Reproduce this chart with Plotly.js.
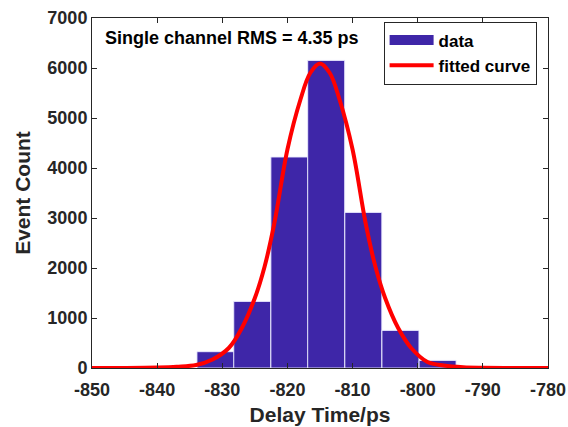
<!DOCTYPE html>
<html>
<head>
<meta charset="utf-8">
<script src="https://cdn.plot.ly/plotly-3.0.1.min.js"></script>
<style>html,body{margin:0;padding:0;background:#fff;}#chart{width:568px;height:427px;}</style>
</head>
<body>
<div id="chart"></div>
<script>
// Histogram bins (centers, ps) and counts
var binCenters = [-831.05, -825.4, -819.7, -814.05, -808.35, -802.65, -796.95];
var binCounts  = [326, 1332, 4220, 6152, 3112, 752, 152];

// Fitted curve points
var fitX = [-850, -845, -840, -837, -834, -831.5, -829, -827, -825, -823.5, -822, -820, -818, -816.5, -815, -813.5, -812, -810, -808, -806.5, -805, -803, -801, -798.5, -796, -793, -790, -785, -780];
var fitY = [0, 2, 10, 25, 60, 170, 400, 800, 1400, 2030, 2900, 4370, 5370, 5900, 6090, 5900, 5370, 4370, 2900, 2030, 1400, 800, 400, 120, 50, 15, 5, 1, 0];

var xTicks = [-850, -840, -830, -820, -810, -800, -790, -780];
var yTicks = [0, 1000, 2000, 3000, 4000, 5000, 6000, 7000];

var axisColor = '#262626';
var barColor = 'rgb(62,38,168)';
var font = 'Liberation Sans, Arial, sans-serif';

var traces = [
  {
    type: 'bar', name: 'data', x: binCenters, y: binCounts, width: 5.68, showlegend: false,
    marker: {color: barColor, line: {color: 'rgba(235,235,255,0.9)', width: 1}}
  },
  // legend entry for the histogram (wide swatch like the reference)
  {
    type: 'scatter', mode: 'lines', name: 'data', x: [null], y: [null],
    line: {color: barColor, width: 15}, hoverinfo: 'skip'
  },
  {
    type: 'scatter', mode: 'lines', name: 'fitted curve', x: fitX, y: fitY,
    line: {color: '#ff0000', width: 4, shape: 'spline', smoothing: 1}
  }
];

var layout = {
  width: 568, height: 427,
  margin: {l: 92, r: 20, t: 18, b: 59},
  paper_bgcolor: '#fff', plot_bgcolor: '#fff',
  showlegend: true,
  font: {family: font, color: axisColor},
  xaxis: {
    range: [-850, -780], tickvals: xTicks, ticktext: xTicks.map(String),
    ticks: 'inside', ticklen: 5, tickcolor: axisColor, showgrid: false, zeroline: false,
    showline: true, linecolor: axisColor, linewidth: 1, mirror: 'ticks',
    ticklabelstandoff: 5,
    tickfont: {family: font, size: 18, color: axisColor, weight: 'bold'},
    title: {text: 'Delay Time/ps', font: {family: font, size: 21, color: axisColor, weight: 'bold'}, standoff: 8}
  },
  yaxis: {
    range: [0, 7000], tickvals: yTicks, ticktext: yTicks.map(String),
    ticks: 'inside', ticklen: 5, tickcolor: axisColor, showgrid: false, zeroline: false,
    showline: true, linecolor: axisColor, linewidth: 1, mirror: 'ticks',
    tickfont: {family: font, size: 18, color: axisColor, weight: 'bold'},
    title: {text: 'Event Count', font: {family: font, size: 21, color: axisColor, weight: 'bold'}, standoff: 11}
  },
  legend: {
    x: 0.975, y: 0.99, xanchor: 'right', yanchor: 'top',
    bgcolor: '#fff', bordercolor: axisColor, borderwidth: 1,
    font: {family: font, size: 17, color: '#000', weight: 'bold'},
    itemwidth: 44, tracegroupgap: 0
  },
  annotations: [{
    xref: 'paper', yref: 'paper', x: 0.024, y: 0.944, xanchor: 'left', yanchor: 'middle',
    text: 'Single channel RMS = 4.35 ps', showarrow: false,
    font: {family: font, size: 18, color: '#000', weight: 'bold'}
  }]
};

Plotly.newPlot('chart', traces, layout, {displayModeBar: false, staticPlot: true});
</script>
</body>
</html>
